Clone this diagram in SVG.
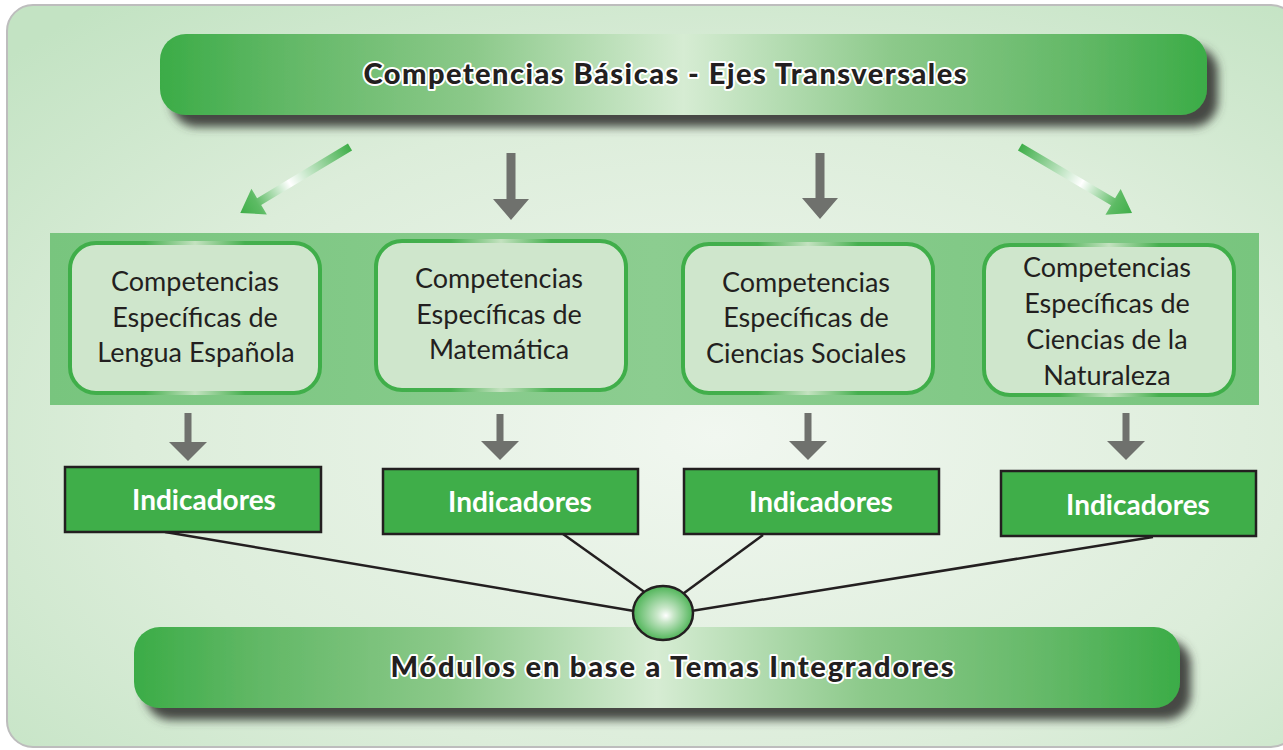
<svg xmlns="http://www.w3.org/2000/svg" width="1283" height="750" viewBox="0 0 1283 750">
  <defs>
    <radialGradient id="bg" cx="0.55" cy="0.58" r="0.75">
      <stop offset="0" stop-color="#f1f7f0"/>
      <stop offset="0.6" stop-color="#dcedda"/>
      <stop offset="1" stop-color="#c3e3c3"/>
    </radialGradient>
    <linearGradient id="banner" x1="0" y1="0" x2="1" y2="0">
      <stop offset="0" stop-color="#3bac47"/>
      <stop offset="0.12" stop-color="#62b866"/>
      <stop offset="0.3" stop-color="#8cc98a"/>
      <stop offset="0.5" stop-color="#d6ecd3"/>
      <stop offset="0.7" stop-color="#8cc98a"/>
      <stop offset="0.88" stop-color="#62b866"/>
      <stop offset="1" stop-color="#3bac47"/>
    </linearGradient>
    <linearGradient id="band" x1="0" y1="0" x2="1" y2="0">
      <stop offset="0" stop-color="#78c57e"/>
      <stop offset="0.5" stop-color="#8ccd90"/>
      <stop offset="1" stop-color="#78c57e"/>
    </linearGradient>
    <linearGradient id="nodeStroke" x1="0" y1="0" x2="1" y2="0">
      <stop offset="0" stop-color="#3fae49"/>
      <stop offset="0.3" stop-color="#46b04f"/>
      <stop offset="0.5" stop-color="#c4e2c0"/>
      <stop offset="0.7" stop-color="#46b04f"/>
      <stop offset="1" stop-color="#3fae49"/>
    </linearGradient>
    <linearGradient id="garrow" x1="0" y1="0" x2="1" y2="0">
      <stop offset="0" stop-color="#3fae49"/>
      <stop offset="0.55" stop-color="#ffffff"/>
      <stop offset="0.85" stop-color="#5dbb64"/>
      <stop offset="1" stop-color="#3fae49"/>
    </linearGradient>
    <radialGradient id="ball" cx="0.5" cy="0.5" r="0.55" fx="0.55" fy="0.55">
      <stop offset="0" stop-color="#ffffff"/>
      <stop offset="0.25" stop-color="#c9e7c9"/>
      <stop offset="1" stop-color="#3fae49"/>
    </radialGradient>
    <filter id="shadow" x="-10%" y="-30%" width="125%" height="190%">
      <feGaussianBlur in="SourceAlpha" stdDeviation="5"/>
      <feOffset dx="11" dy="12" result="b"/>
      <feFlood flood-color="#3e403c" flood-opacity="0.95"/>
      <feComposite in2="b" operator="in"/>
      <feMerge><feMergeNode/><feMergeNode in="SourceGraphic"/></feMerge>
    </filter>
  </defs>
  <style>
    .title { font-family: Lato, "Liberation Sans", sans-serif; font-weight: 900; font-size: 29px; fill: #231f20; stroke: #ffffff; stroke-width: 4; paint-order: stroke; stroke-linejoin: round; text-anchor: middle; }
    .ntext { font-family: Lato, "Liberation Sans", sans-serif; font-size: 27px; fill: #231f20; text-anchor: middle; }
    .ind { font-family: Lato, "Liberation Sans", sans-serif; font-weight: bold; font-size: 28px; fill: #ffffff; text-anchor: middle; }
    .node { fill: #cfe6cc; stroke: url(#nodeStroke); stroke-width: 4; }
    .indbox { fill: #3fae49; stroke: #231f20; stroke-width: 2.5; }
    .garr { fill: #6f716d; }
    .link { stroke: #231f20; stroke-width: 2.5; fill: none; }
  </style>

  <rect x="7" y="5" width="1290" height="742" rx="26" fill="url(#bg)" stroke="#bdbdbd" stroke-width="2"/>

  <g id="top-banner">
    <rect x="160" y="34" width="1047" height="81" rx="26" fill="url(#banner)" filter="url(#shadow)"/>
    <text class="title" x="665" y="84" textLength="603" lengthAdjust="spacing">Competencias Básicas - Ejes Transversales</text>
  </g>

  <rect id="band" x="50" y="233" width="1209" height="172" fill="url(#band)"/>

  <g id="connectors">
    <g transform="translate(350,147) rotate(149)">
      <polygon points="0,-4 106,-4 106,-15 128,0 106,15 106,4 0,4" fill="url(#garrow)"/>
    </g>
    <g transform="translate(1020,147) rotate(30.5)">
      <polygon points="0,-4 108,-4 108,-15 130,0 108,15 108,4 0,4" fill="url(#garrow)"/>
    </g>
    <polygon class="garr" points="506.5,153 515.5,153 515.5,199 529,199 511,220 493,199 506.5,199"/>
    <polygon class="garr" points="815.5,153 824.5,153 824.5,198 838,198 820,219 802,198 815.5,198"/>
    <polygon class="garr" points="184.5,413 191.5,413 191.5,442 207,442 188,461 169,442 184.5,442"/>
    <polygon class="garr" points="496.5,414 503.5,414 503.5,441 519,441 500,460 481,441 496.5,441"/>
    <polygon class="garr" points="804.5,413 811.5,413 811.5,441 827,441 808,460 789,441 804.5,441"/>
    <polygon class="garr" points="1122.5,413 1129.5,413 1129.5,441 1145,441 1126,460 1107,441 1122.5,441"/>
    <line class="link" x1="165" y1="532" x2="640" y2="612"/>
    <line class="link" x1="563" y1="534" x2="650" y2="596"/>
    <line class="link" x1="763" y1="535" x2="680" y2="596"/>
    <line class="link" x1="1153" y1="537" x2="685" y2="612"/>
  </g>

  <g id="node-lengua">
    <rect class="node" x="70" y="243" width="250" height="150" rx="26"/>
    <text class="ntext" x="195" y="291">Competencias</text>
    <text class="ntext" x="195" y="326.5">Específicas de</text>
    <text class="ntext" x="196" y="362">Lengua Española</text>
  </g>
  <g id="node-matematica">
    <rect class="node" x="376" y="241" width="250" height="149" rx="26"/>
    <text class="ntext" x="499" y="288">Competencias</text>
    <text class="ntext" x="499" y="324">Específicas de</text>
    <text class="ntext" x="499" y="359">Matemática</text>
  </g>
  <g id="node-sociales">
    <rect class="node" x="683" y="244" width="250" height="149" rx="26"/>
    <text class="ntext" x="806" y="292">Competencias</text>
    <text class="ntext" x="806" y="327">Específicas de</text>
    <text class="ntext" x="806" y="363">Ciencias Sociales</text>
  </g>
  <g id="node-naturaleza">
    <rect class="node" x="984" y="245" width="250" height="150" rx="26"/>
    <text class="ntext" x="1107" y="277">Competencias</text>
    <text class="ntext" x="1107" y="313">Específicas de</text>
    <text class="ntext" x="1107" y="349">Ciencias de la</text>
    <text class="ntext" x="1107" y="385">Naturaleza</text>
  </g>

  <g id="ind-1">
    <rect class="indbox" x="65" y="467" width="256" height="65"/>
    <text class="ind" x="204" y="510">Indicadores</text>
  </g>
  <g id="ind-2">
    <rect class="indbox" x="383" y="469" width="255" height="65"/>
    <text class="ind" x="520" y="512">Indicadores</text>
  </g>
  <g id="ind-3">
    <rect class="indbox" x="684" y="469" width="255" height="65"/>
    <text class="ind" x="821" y="512">Indicadores</text>
  </g>
  <g id="ind-4">
    <rect class="indbox" x="1001" y="471" width="255" height="65"/>
    <text class="ind" x="1138" y="515">Indicadores</text>
  </g>

  <g id="bottom-banner">
    <rect x="134" y="627" width="1046" height="81" rx="26" fill="url(#banner)" filter="url(#shadow)"/>
    <text class="title" x="672" y="677" textLength="563" lengthAdjust="spacing">Módulos en base a Temas Integradores</text>
  </g>

  <g id="hub">
    <ellipse cx="663" cy="613" rx="30" ry="27" fill="url(#ball)" stroke="#231f20" stroke-width="2.5"/>
  </g>
</svg>
